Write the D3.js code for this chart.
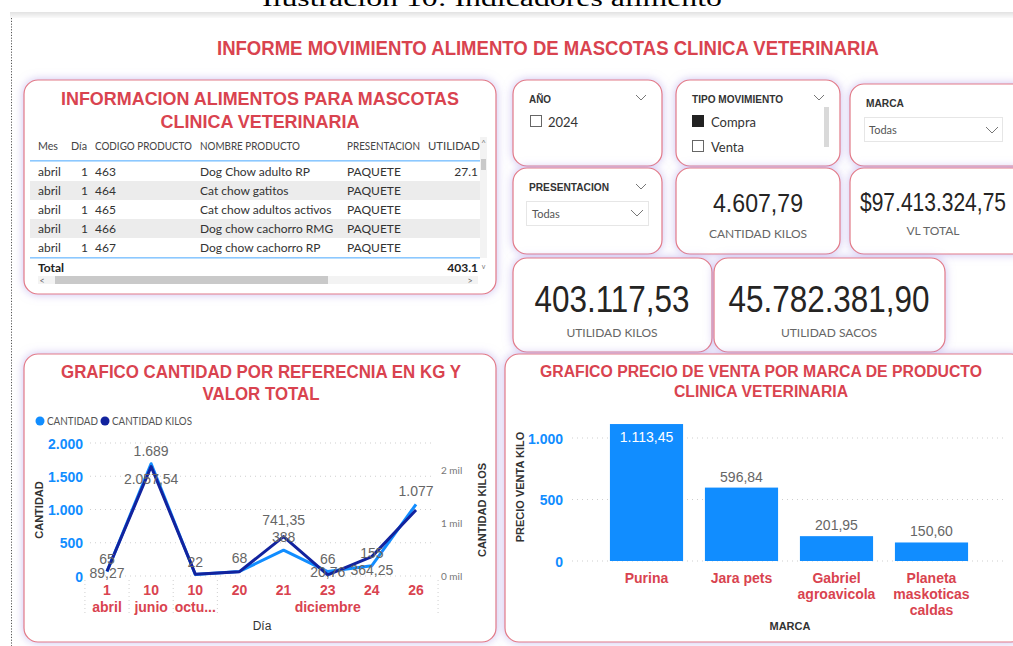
<!DOCTYPE html>
<html><head><meta charset="utf-8">
<script src="https://cdn.jsdelivr.net/npm/d3@7"></script>
<style>
html,body{margin:0;padding:0;background:#fff;overflow:hidden;}
svg{display:block;}
</style></head>
<body>
<svg id="c" width="1013" height="646"></svg>
<script>
// ---------------- DATA ----------------
const mainTitle = "INFORME MOVIMIENTO ALIMENTO DE MASCOTAS CLINICA VETERINARIA";
const tableTitle = ["INFORMACION ALIMENTOS PARA MASCOTAS", "CLINICA VETERINARIA"];
const tableColumns = ["Mes", "Día", "CODIGO PRODUCTO", "NOMBRE PRODUCTO", "PRESENTACION", "UTILIDAD KILOS"];
const tableMes = ["abril", "abril", "abril", "abril", "abril"];
const tableDia = [1, 1, 1, 1, 1];
const tableCodigo = ["463", "464", "465", "466", "467"];
const tableNombre = ["Dog Chow adulto RP", "Cat chow gatitos", "Cat chow adultos activos", "Dog chow cachorro RMG", "Dog chow cachorro RP"];
const tablePresentacion = ["PAQUETE", "PAQUETE", "PAQUETE", "PAQUETE", "PAQUETE"];
const tableUtilidad = ["27.1", "", "", "", ""];
const tableTotal = "403.1";

const slicerAnio = ["2024"];
const slicerTipo = ["Compra", "Venta"];
const slicerTipoChecked = [true, false];

const cardLabels = ["CANTIDAD KILOS", "VL TOTAL", "UTILIDAD KILOS", "UTILIDAD SACOS"];
const cardValues = ["4.607,79", "$97.413.324,75", "403.117,53", "45.782.381,90"];

const lineTitle = ["GRAFICO CANTIDAD POR REFERECNIA EN KG Y", "VALOR TOTAL"];
const days = ["1", "10", "10", "20", "21", "23", "24", "26"];
const months = ["abril", "junio", "octu...", "diciembre", "diciembre", "diciembre", "diciembre", "diciembre"];
const cantidad = [65, 1689, 22, 68, 388, 66, 155, 1077];
const cantidadKilos = [89.27, 2057.54, 35, 81, 741.35, 20.76, 364.25, 1240];
const kilosLabelShown = [true, true, false, false, true, true, true, false];
const leftTicks = [0, 500, 1000, 1500, 2000];
const rightTicks = [0, 1000, 2000];

const barTitle = ["GRAFICO PRECIO DE VENTA POR MARCA DE PRODUCTO", "CLINICA VETERINARIA"];
const marcas = [["Purina"], ["Jara pets"], ["Gabriel", "agroavicola"], ["Planeta", "maskoticas", "caldas"]];
const precioVenta = [1113.45, 596.84, 201.95, 150.60];
const barTicks = [0, 500, 1000];

// ---------------- SETUP ----------------
const es = d3.formatLocale({decimal: ",", thousands: ".", grouping: [3], currency: ["$", ""]});
const fInt = es.format(",.0f"), f2 = es.format(",.2f");
const RED = "#d9434f", BLUE = "#118DFF", DARK = "#12239E";
const SANS = "'Liberation Sans', Arial, sans-serif";
const UI = "Lato, 'Open Sans', sans-serif";
const svg = d3.select("#c");

const defs = svg.append("defs");
const flt = defs.append("filter").attr("id", "glow").attr("x", "-20%").attr("y", "-20%").attr("width", "140%").attr("height", "140%");
flt.append("feDropShadow").attr("dx", 0).attr("dy", 0).attr("stdDeviation", 5)
  .attr("flood-color", "#a996e6").attr("flood-opacity", 0.6);
const grad = defs.append("linearGradient").attr("id", "band").attr("x1", 0).attr("x2", 0).attr("y1", 0).attr("y2", 1);
grad.append("stop").attr("offset", "0%").attr("stop-color", "#e2e2e2");
grad.append("stop").attr("offset", "100%").attr("stop-color", "#fafafa");
defs.append("clipPath").attr("id", "tclip").append("rect").attr("x", 30).attr("y", 130).attr("width", 450).attr("height", 160);

// caption at top (cut)
svg.append("text").attr("x", 492).attr("y", 6).attr("text-anchor", "middle")
  .attr("font-family", "'Liberation Serif', 'Times New Roman', serif").attr("font-size", 24)
  .attr("textLength", 460).attr("lengthAdjust", "spacingAndGlyphs").attr("fill", "#000")
  .text("Ilustración 10: Indicadores alimento");
svg.append("rect").attr("x", 10).attr("y", 12).attr("width", 1003).attr("height", 6).attr("fill", "url(#band)");
svg.append("line").attr("x1", 11.5).attr("x2", 11.5).attr("y1", 18).attr("y2", 646)
  .attr("stroke", "#555").attr("stroke-width", 1).attr("stroke-dasharray", "1.2,1.6");

// main title
svg.append("text").attr("x", 548).attr("y", 55).attr("text-anchor", "middle")
  .attr("font-family", SANS).attr("font-weight", "bold").attr("font-size", 21).attr("fill", RED)
  .attr("textLength", 662).attr("lengthAdjust", "spacingAndGlyphs").text(mainTitle);

// panels
function panel(x, y, w, h) {
  svg.append("rect").attr("x", x).attr("y", y).attr("width", w).attr("height", h).attr("rx", 14)
    .attr("fill", "#fff").attr("stroke", "#e27a86").attr("stroke-width", 1.2).attr("filter", "url(#glow)");
}
panel(24, 80, 472, 214);
panel(513, 80, 149, 86);
panel(676, 80, 164, 86);
panel(850, 84, 180, 82);
panel(513, 168, 149, 86);
panel(676, 168, 164, 86);
panel(850, 168, 180, 86);
panel(513, 258, 199, 94);
panel(714, 258, 231, 94);
panel(24, 354, 472, 288);
panel(505, 354, 520, 288);

function txt(g, x, y, s, o) {
  o = o || {};
  const t = g.append("text").attr("x", x).attr("y", y).text(s)
    .attr("font-family", o.ff || UI).attr("font-size", o.fs || 11)
    .attr("fill", o.fill || "#333").attr("text-anchor", o.anchor || "start");
  if (o.fw) t.attr("font-weight", o.fw);
  if (o.tl) t.attr("textLength", o.tl).attr("lengthAdjust", "spacingAndGlyphs");
  return t;
}
function chevron(x, y, w) {
  w = w || 10;
  svg.append("polyline").attr("points", `${x},${y} ${x + w / 2},${y + w / 2} ${x + w},${y}`)
    .attr("fill", "none").attr("stroke", "#777").attr("stroke-width", 1);
}

// ---------------- TABLE ----------------
const tg0 = svg.append("g");
tableTitle.forEach((s, i) => txt(tg0, 260, 105 + i * 23, s, {ff: SANS, fw: "bold", fs: 19, fill: RED, anchor: "middle", tl: i === 0 ? 398 : 199}));
const tg = svg.append("g").attr("clip-path", "url(#tclip)");
const colX = [38, 88, 95, 200, 347, 478];
const colAnchor = ["start", "end", "start", "start", "start", "end"];
const headX = [38, 71, 95, 200, 347, 428];
const headW = [20, 16, 97, 100, 73, 86];
tableColumns.forEach((c, i) => txt(tg, headX[i], 150, c, {fs: 12, fill: "#444", tl: headW[i]}));
const rowY = d3.range(tableMes.length).map(i => 162 + i * 19);
tableMes.forEach((m, i) => {
  if (i % 2 === 1) tg.append("rect").attr("x", 30).attr("y", rowY[i]).attr("width", 450).attr("height", 19).attr("fill", "#ececec");
  const vals = [m, tableDia[i], tableCodigo[i], tableNombre[i], tablePresentacion[i], tableUtilidad[i]];
  vals.forEach((v, j) => txt(tg, colX[j], rowY[i] + 14, String(v), {fs: 12, fill: "#333", anchor: colAnchor[j]}));
});
tg.append("rect").attr("x", 30).attr("y", 160).attr("width", 450).attr("height", 1.6).attr("fill", "#8cc8ff");
tg.append("rect").attr("x", 30).attr("y", 257).attr("width", 450).attr("height", 1.6).attr("fill", "#8cc8ff");
txt(tg, 38, 272, "Total", {fs: 12, fw: "bold", fill: "#222"});
txt(tg, 478, 272, tableTotal, {fs: 12, fw: "bold", fill: "#222", anchor: "end"});
// scrollbars
tg0.append("rect").attr("x", 480).attr("y", 137).attr("width", 7).attr("height", 121).attr("fill", "#f3f3f3");
tg0.append("rect").attr("x", 481).attr("y", 159).attr("width", 5).attr("height", 11).attr("fill", "#c9c9c9");
txt(tg0, 483.5, 146, "^", {fs: 8, fill: "#777", anchor: "middle"});
txt(tg0, 483.5, 269, "v", {fs: 7, fill: "#777", anchor: "middle"});
tg0.append("rect").attr("x", 38).attr("y", 276).attr("width", 440).attr("height", 8).attr("fill", "#f3f3f3");
tg0.append("rect").attr("x", 55).attr("y", 276).attr("width", 273).attr("height", 8).attr("fill", "#c9c9c9");
txt(tg0, 42, 284, "<", {fs: 9, fill: "#666", anchor: "middle"});
txt(tg0, 470, 284, ">", {fs: 9, fill: "#666", anchor: "middle"});

// ---------------- SLICERS ----------------
const HF = "'Liberation Sans', Arial, sans-serif";
txt(svg, 529, 103, "AÑO", {ff: HF, fs: 11, fw: "bold", fill: "#333", tl: 22});
chevron(636, 95);
slicerAnio.forEach((s, i) => {
  svg.append("rect").attr("x", 530.5).attr("y", 115.5 + i * 25).attr("width", 11).attr("height", 11).attr("fill", "#fff").attr("stroke", "#666");
  txt(svg, 548, 127 + i * 25, s, {fs: 13, fill: "#333"});
});
txt(svg, 692, 103, "TIPO MOVIMIENTO", {ff: HF, fs: 11, fw: "bold", fill: "#333", tl: 91});
chevron(814, 95);
svg.append("rect").attr("x", 824).attr("y", 107).attr("width", 5).attr("height", 40).attr("fill", "#d9d9d9");
slicerTipo.forEach((s, i) => {
  svg.append("rect").attr("x", 692.5).attr("y", 115.5 + i * 25).attr("width", 11).attr("height", 11)
    .attr("fill", slicerTipoChecked[i] ? "#222" : "#fff").attr("stroke", slicerTipoChecked[i] ? "#222" : "#666");
  txt(svg, 711, 127 + i * 25, s, {fs: 13, fill: "#333"});
});
txt(svg, 866, 107, "MARCA", {ff: HF, fs: 11, fw: "bold", fill: "#333", tl: 38});
svg.append("rect").attr("x", 864.5).attr("y", 117.5).attr("width", 138).attr("height", 24).attr("fill", "#fff").attr("stroke", "#e6e6e6");
txt(svg, 869, 134, "Todas", {fs: 11, fill: "#555"});
chevron(986, 127, 12);
txt(svg, 529, 191, "PRESENTACION", {ff: HF, fs: 11, fw: "bold", fill: "#333", tl: 80});
chevron(636, 184);
svg.append("rect").attr("x", 526.5).attr("y", 201.5).attr("width", 122).attr("height", 24).attr("fill", "#fff").attr("stroke", "#e6e6e6");
txt(svg, 532, 218, "Todas", {fs: 11, fill: "#555"});
chevron(631, 210, 12);

// ---------------- CARDS ----------------
const cardPos = [[758, 212, 238, 26, 90], [933, 211, 235, 25, 146], [612, 312, 337, 37, 155], [829, 312, 337, 37, 201]];
cardValues.forEach((v, i) => {
  const p = cardPos[i];
  txt(svg, p[0], p[1], v, {ff: SANS, fs: p[3], fill: "#252423", anchor: "middle", tl: p[4]});
  txt(svg, p[0], p[2], cardLabels[i], {fs: 12, fill: "#666", anchor: "middle"});
});

// ---------------- LINE CHART ----------------
const lg = svg.append("g");
lineTitle.forEach((s, i) => txt(lg, 261, 378 + i * 22, s, {ff: SANS, fw: "bold", fs: 18, fill: RED, anchor: "middle", tl: i === 0 ? 400 : 117}));
// legend
lg.append("circle").attr("cx", 40).attr("cy", 421).attr("r", 4.5).attr("fill", BLUE);
txt(lg, 47, 425, "CANTIDAD", {fs: 11, fill: "#555", tl: 51});
lg.append("circle").attr("cx", 105).attr("cy", 421).attr("r", 4.5).attr("fill", DARK);
txt(lg, 112, 425, "CANTIDAD KILOS", {fs: 11, fill: "#555", tl: 80});

const idx = d3.range(days.length);
const x = d3.scalePoint().domain(idx).range([107, 416]);
const yL = d3.scaleLinear().domain([0, 2000]).range([576, 443]);
const yR = d3.scaleLinear().domain([0, 2500]).range([576, 443]);

// grid
lg.selectAll(".g").data(leftTicks).join("line")
  .attr("x1", 90).attr("x2", 434).attr("y1", d => yL(d)).attr("y2", d => yL(d))
  .attr("stroke", "#cfcfcf").attr("stroke-dasharray", "1,4");
// left axis
const axL = d3.axisLeft(yL).tickValues(leftTicks).tickFormat(fInt).tickSize(0).tickPadding(0);
const gL = lg.append("g").attr("transform", "translate(83,0)").call(axL);
gL.select(".domain").remove();
gL.selectAll("text").attr("font-family", SANS).attr("font-size", 14).attr("font-weight", "bold").attr("fill", BLUE).attr("dy", "0.36em");
// right axis
const axR = d3.axisRight(yR).tickValues(rightTicks).tickFormat(d => (d / 1000) + " mil").tickSize(0).tickPadding(0);
const gR = lg.append("g").attr("transform", "translate(441,0)").call(axR);
gR.select(".domain").remove();
gR.selectAll("text").attr("font-family", UI).attr("font-size", 10).attr("fill", "#777").attr("dy", "0.36em");

// x axis labels
const stepX = x.step();
idx.forEach(i => txt(lg, x(i), 595, days[i], {ff: SANS, fs: 14, fw: "bold", fill: RED, anchor: "middle"}));
const groups = [];
months.forEach((m, i) => {
  if (!groups.length || groups[groups.length - 1].m !== m) groups.push({m, a: i, b: i});
  else groups[groups.length - 1].b = i;
});
groups.forEach(g => txt(lg, (x(g.a) + x(g.b)) / 2, 612, g.m, {ff: SANS, fs: 14, fw: "bold", fill: RED, anchor: "middle"}));
const seps = [x(0) - stepX / 2].concat(groups.map(g => x(g.b) + stepX / 2));
lg.selectAll(".sep").data(seps).join("line")
  .attr("x1", d => d).attr("x2", d => d).attr("y1", 580).attr("y2", 614)
  .attr("stroke", "#cfcfcf").attr("stroke-dasharray", "1,3");
txt(lg, 262, 630, "Día", {ff: SANS, fs: 12, fill: "#333", anchor: "middle"});
txt(lg, 0, 0, "CANTIDAD", {ff: SANS, fs: 11, fw: "bold", fill: "#333", anchor: "middle"})
  .attr("transform", "translate(43,510) rotate(-90)");
txt(lg, 0, 0, "CANTIDAD KILOS", {ff: SANS, fs: 11, fw: "bold", fill: "#333", anchor: "middle"})
  .attr("transform", "translate(486,510) rotate(-90)");

// lines
const lineL = d3.line().x(i => x(i)).y(i => yL(cantidad[i]));
const lineR = d3.line().x(i => x(i)).y(i => yR(cantidadKilos[i]));
lg.append("path").attr("d", lineL(idx)).attr("fill", "none").attr("stroke", BLUE).attr("stroke-width", 3).attr("stroke-linejoin", "round");
lg.append("path").attr("d", lineR(idx)).attr("fill", "none").attr("stroke", DARK).attr("stroke-width", 3).attr("stroke-linejoin", "round");

// data labels
const kilosDy = [7, 17, 0, 0, -12, 2, 18, 0];
idx.forEach(i => {
  txt(lg, x(i), yL(cantidad[i]) - 8, fInt(cantidad[i]), {ff: SANS, fs: 14, fill: "#666", anchor: "middle"});
  if (kilosLabelShown[i])
    txt(lg, x(i), yR(cantidadKilos[i]) + kilosDy[i], f2(cantidadKilos[i]), {ff: SANS, fs: 14, fill: "#666", anchor: "middle"});
});

// ---------------- BAR CHART ----------------
const bg = svg.append("g");
barTitle.forEach((s, i) => txt(bg, 761, 377 + i * 20, s, {ff: SANS, fw: "bold", fs: 16, fill: RED, anchor: "middle", tl: i === 0 ? 442 : 174}));
const xb = d3.scaleBand().domain(d3.range(marcas.length)).range([599, 979]).paddingInner(0.23).paddingOuter(0.115);
const yb = d3.scaleLinear().domain([0, 1000]).range([561, 438]);
bg.selectAll(".bg").data(barTicks).join("line")
  .attr("x1", 572).attr("x2", 1005).attr("y1", d => yb(d)).attr("y2", d => yb(d))
  .attr("stroke", "#cfcfcf").attr("stroke-dasharray", "1,4");
const axB = d3.axisLeft(yb).tickValues(barTicks).tickFormat(fInt).tickSize(0).tickPadding(0);
const gB = bg.append("g").attr("transform", "translate(563,0)").call(axB);
gB.select(".domain").remove();
gB.selectAll("text").attr("font-family", SANS).attr("font-size", 14).attr("font-weight", "bold").attr("fill", BLUE).attr("dy", "0.36em");
bg.selectAll(".bar").data(precioVenta).join("rect")
  .attr("x", (d, i) => xb(i)).attr("width", xb.bandwidth())
  .attr("y", d => yb(d)).attr("height", d => yb(0) - yb(d)).attr("fill", BLUE);
precioVenta.forEach((v, i) => {
  const inside = yb(v) < yb(1000);
  txt(bg, xb(i) + xb.bandwidth() / 2, inside ? yb(v) + 18 : yb(v) - 6, f2(v),
    {ff: SANS, fs: 14, fill: inside ? "#fff" : "#666", anchor: "middle"});
  marcas[i].forEach((s, k) => txt(bg, xb(i) + xb.bandwidth() / 2, 583 + k * 16, s, {ff: SANS, fs: 14, fw: "bold", fill: RED, anchor: "middle"}));
});
txt(bg, 0, 0, "PRECIO VENTA KILO", {ff: SANS, fs: 11, fw: "bold", fill: "#333", anchor: "middle"})
  .attr("transform", "translate(524,487) rotate(-90)");
txt(bg, 790, 630, "MARCA", {ff: HF, fs: 11, fw: "bold", fill: "#333", anchor: "middle"});
</script>
</body></html>
